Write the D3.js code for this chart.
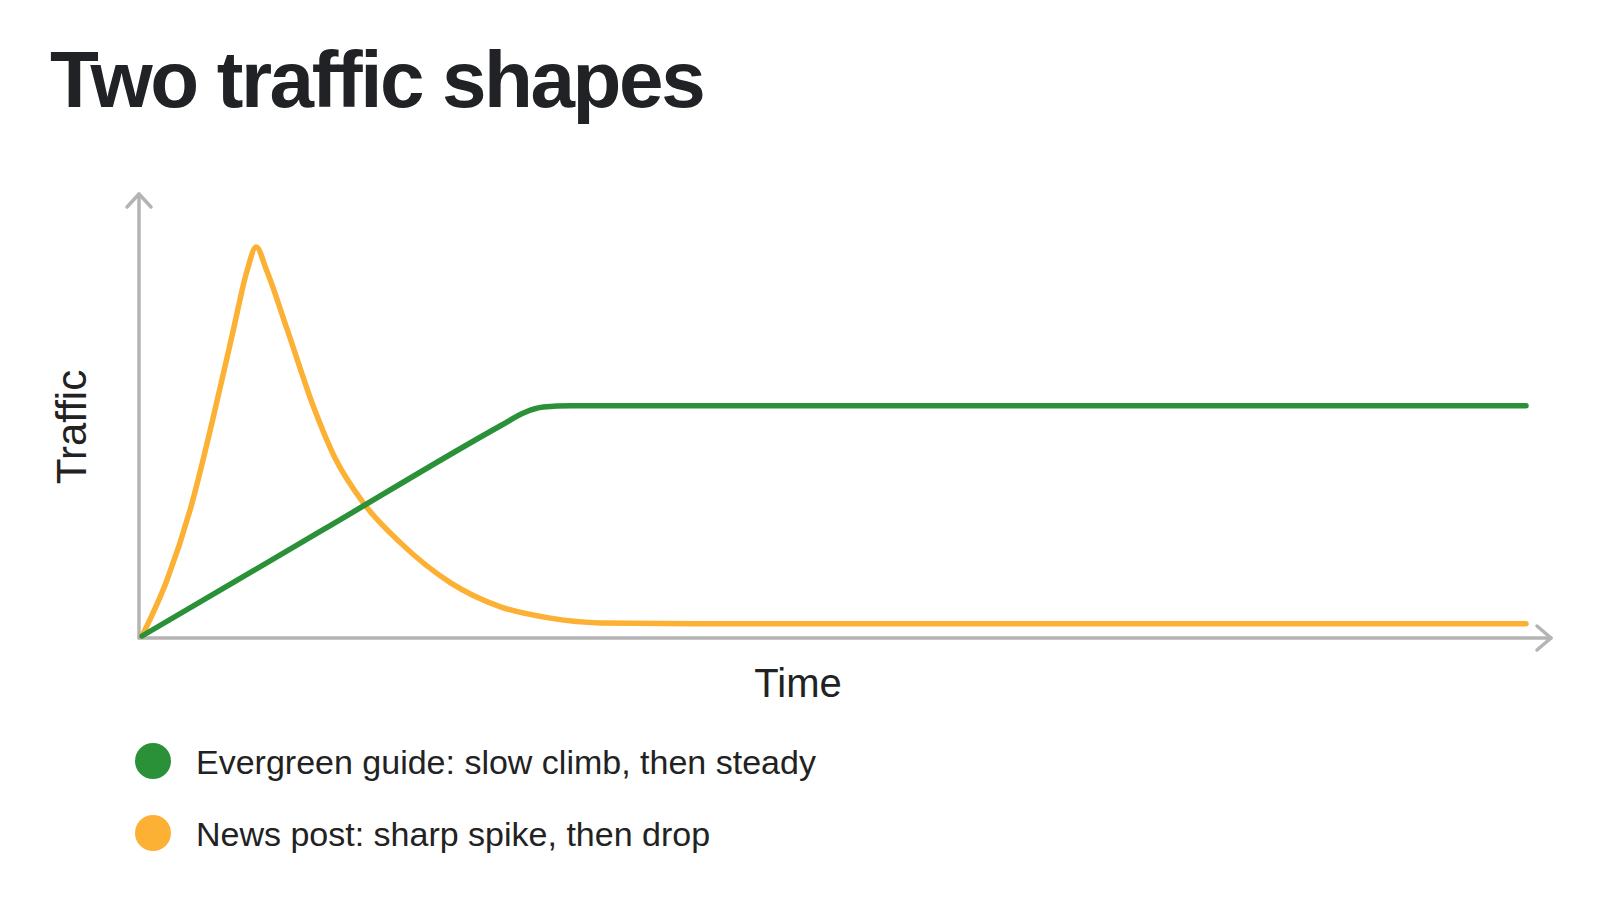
<!DOCTYPE html>
<html>
<head>
<meta charset="utf-8">
<script src="https://cdn.jsdelivr.net/npm/d3@7"></script>
<style>
  html, body { margin: 0; padding: 0; background: #ffffff; }
  svg { display: block; font-family: "Liberation Sans", Arial, Helvetica, sans-serif; }
</style>
</head>
<body>
<script>
// Time runs 0..100, traffic 0..100 (no units on the reference)
const evergreenTime    = [0, 13, 26, 27.6, 29, 31, 50, 75, 100];
const evergreenTraffic = [0, 24.2, 48.4, 51.2, 52.5, 52.8, 52.8, 52.8, 52.8];

const newsTime    = [0, 1.8, 3.5, 5.1, 6.6, 7.6, 8.25, 9.0, 10.5, 12.4, 13.9, 16.0, 18.7, 22.3, 25.9, 29.5, 33.1, 40, 60, 100];
const newsTraffic = [0, 12.8, 29.2, 49.5, 70.2, 83.9, 89.2, 83.9, 70.2, 52.5, 41.1, 30.5, 21.3, 12.2, 6.7, 4.1, 3.0, 2.8, 2.8, 2.8];

const seriesNames  = ["Evergreen guide: slow climb, then steady", "News post: sharp spike, then drop"];
const seriesColors = ["#2a9139", "#fcb134"];

const W = 1600, H = 900;
const originX = 139, originY = 638;

const svg = d3.select("body").append("svg")
    .attr("width", W)
    .attr("height", H);

// Title
svg.append("text")
    .attr("x", 50)
    .attr("y", 107)
    .style("font-size", "80px")
    .style("font-weight", "700")
    .style("letter-spacing", "-2.4px")
    .style("fill", "#202226")
    .text("Two traffic shapes");

// Scales
const x = d3.scaleLinear().domain([0, 100]).range([142, 1526]);
const y = d3.scaleLinear().domain([0, 100]).range([636, 200]);

// Axes with open arrowheads
const axisColor = "#b4b4b4";
const axes = svg.append("g")
    .attr("fill", "none")
    .attr("stroke", axisColor)
    .attr("stroke-width", 3.5)
    .attr("stroke-linecap", "round")
    .attr("stroke-linejoin", "round");

axes.append("path").attr("d", `M${originX},${originY}V194`);
axes.append("path").attr("d", `M${originX - 12},${207}L${originX},194L${originX + 12},${207}`);
axes.append("path").attr("d", `M${originX},${originY}H1551`);
axes.append("path").attr("d", `M1537,${originY - 12}L1551,${originY}L1537,${originY + 12}`);

// Axis labels
svg.append("text")
    .attr("transform", `translate(86,427) rotate(-90)`)
    .attr("text-anchor", "middle")
    .style("font-size", "42px")
    .style("fill", "#222")
    .text("Traffic");

svg.append("text")
    .attr("x", 798)
    .attr("y", 697)
    .attr("text-anchor", "middle")
    .style("font-size", "40px")
    .style("fill", "#222")
    .text("Time");

// Lines
const line = d3.line()
    .x(d => x(d[0]))
    .y(d => y(d[1]))
    .curve(d3.curveMonotoneX);

const series = [
    d3.zip(evergreenTime, evergreenTraffic),
    d3.zip(newsTime, newsTraffic)
];

// draw orange first so green sits on top at the crossing
svg.selectAll(".series")
    .data(series.map((pts, i) => ({ pts, i })).reverse())
    .enter()
    .append("path")
    .attr("class", "series")
    .attr("d", d => line(d.pts))
    .attr("fill", "none")
    .attr("stroke", d => seriesColors[d.i])
    .attr("stroke-width", 5.5)
    .attr("stroke-linecap", "round")
    .attr("stroke-linejoin", "round");

// Legend
const legend = svg.selectAll(".legend")
    .data(seriesNames)
    .enter()
    .append("g")
    .attr("class", "legend")
    .attr("transform", (d, i) => `translate(153,${761 + i * 72})`);

legend.append("circle")
    .attr("r", 18)
    .attr("fill", (d, i) => seriesColors[i]);

legend.append("text")
    .attr("x", 43)
    .attr("y", 13)
    .style("font-size", "34px")
    .style("fill", "#222")
    .text(d => d);
</script>
</body>
</html>
